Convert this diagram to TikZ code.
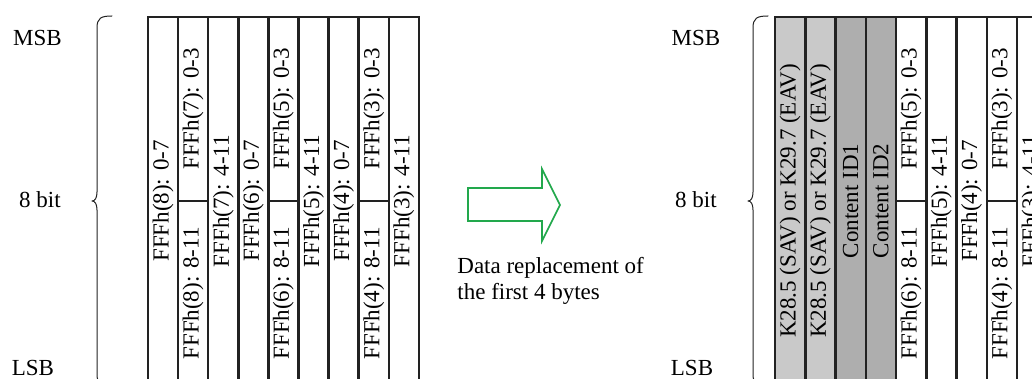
\documentclass[tikz,border=0pt]{standalone}
\usepackage{fontspec}
\setmainfont{Liberation Serif}
\usetikzlibrary{calc, positioning}
\definecolor{ink}{HTML}{222222}
\definecolor{gsav}{HTML}{C9C9C9}
\definecolor{gcid}{HTML}{AEAEAE}
\definecolor{wgreen}{HTML}{22A84C}
\tikzset{
  lbl/.style={inner sep=0pt, font=\fontsize{11.5}{13}\selectfont},
  vlbl/.style={lbl, rotate=90},
  grid/.style={ink, line width=1.25pt, line cap=rect},
  brc/.style={ink, line width=0.5pt, line cap=round, line join=round}
}

\begin{document}
\begin{tikzpicture}[x=0.5pt, y=-0.5pt]
  \useasboundingbox (0,0) rectangle (1032,379);
  \clip (0,0) rectangle (1032,379);
  % left: the line as sent
  \node[lbl] (msbL) at (37.5,38) {MSB};
  \node[lbl] (bitL) at (40,200) {8 bit};
  \node[lbl] (lsbL) at (33,368) {LSB};
  \draw[brc] (112,16) .. controls (101,16) and (97,18) .. (97,28) -- (97,192) .. controls (97,198) and (95,201) .. (92,201)
     .. controls (95,201) and (97,204) .. (97,210) -- (97,374) .. controls (97,384) and (101,386) .. (112,386);
  \def\lx{148} \def\cw{30.1}
  \foreach \i/\t in {1/FFFh(8): 0-7, 3/FFFh(7): 4-11, 4/FFFh(6): 0-7, 6/FFFh(5): 4-11, 7/FFFh(4): 0-7, 9/FFFh(3): 4-11}
    \node[vlbl] (l\i) at ({\lx+(\i-0.5)*\cw},201) {\t};
  \foreach \i/\t/\b in {2/FFFh(7): 0-3/FFFh(8): 8-11, 5/FFFh(5): 0-3/FFFh(6): 8-11, 8/FFFh(3): 0-3/FFFh(4): 8-11}{
    \node[vlbl] (lt\i) at ({\lx+(\i-0.5)*\cw},109) {\t};
    \node[vlbl] (lb\i) at ({\lx+(\i-0.5)*\cw},293.5) {\b};
    \draw[grid] ({\lx+(\i-1)*\cw},201) -- ({\lx+\i*\cw},201);}
  \foreach \i in {0,...,9}{\draw[grid] ({\lx+\i*\cw},17) -- ({\lx+\i*\cw},390);}
  \draw[grid] (\lx,17) -- ({\lx+9*\cw},17);
  % arrow and note
  \draw[wgreen, line width=0.8pt, line join=miter] (468,188) -- (542,188) -- (542,169) -- (560,205) -- (542,241) -- (542,221) -- (468,221) -- cycle;
  \node[lbl, align=left, anchor=west] (note) at (457,281) {Data replacement of\\the first 4 bytes};
  % right: after replacement
  \node[lbl] (msbR) at (696,38) {MSB};
  \node[lbl] (bitR) at (696,200) {8 bit};
  \node[lbl] (lsbR) at (692,368) {LSB};
  \draw[brc] (768,16) .. controls (757,16) and (753,18) .. (753,28) -- (753,192) .. controls (753,198) and (751,201) .. (748,201)
     .. controls (751,201) and (753,204) .. (753,210) -- (753,374) .. controls (753,384) and (757,386) .. (768,386);
  \def\rx{775} \def\cw{30.25}
  \fill[gsav] (\rx,17) rectangle ({\rx+2*\cw},390);
  \fill[gcid] ({\rx+2*\cw},17) rectangle ({\rx+4*\cw},390);
  \foreach \i/\t in {1/K28.5 (SAV) or K29.7 (EAV), 2/K28.5 (SAV) or K29.7 (EAV), 3/Content ID1, 4/Content ID2, 6/FFFh(5): 4-11, 7/FFFh(4): 0-7, 9/FFFh(3): 4-11}
    \node[vlbl] (r\i) at ({\rx+(\i-0.5)*\cw},201) {\t};
  \foreach \i/\t/\b in {5/FFFh(5): 0-3/FFFh(6): 8-11, 8/FFFh(3): 0-3/FFFh(4): 8-11}{
    \node[vlbl] (rt\i) at ({\rx+(\i-0.5)*\cw},109) {\t};
    \node[vlbl] (rb\i) at ({\rx+(\i-0.5)*\cw},293.5) {\b};
    \draw[grid] ({\rx+(\i-1)*\cw},201) -- ({\rx+\i*\cw},201);}
  \foreach \i in {0,...,8}{\draw[grid] ({\rx+\i*\cw},17) -- ({\rx+\i*\cw},390);}
  \draw[grid] (\rx,17) -- (1040,17);
\end{tikzpicture}
\end{document}
